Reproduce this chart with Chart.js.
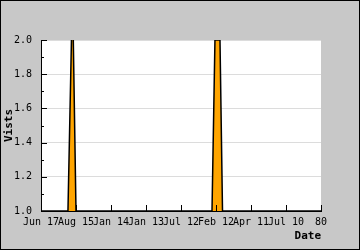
<!DOCTYPE html>
<html>
<head>
<meta charset="utf-8">
<script src="https://cdn.jsdelivr.net/npm/chart.js@4/dist/chart.umd.min.js"></script>
<style>
  html, body { margin: 0; padding: 0; background: #c8c8c8; }
  canvas { display: block; }
</style>
</head>
<body>
<canvas id="chart" width="360" height="250"></canvas>
<script>
// x tick labels, one per integer position on the date axis
const xLabels = ["Jun 17", "Aug 15", "Jan 14", "Jan 13", "Jul 12", "Feb 12", "Apr 11", "Jul 10", "80"];
// visits series (x in axis units, y = visits)
const visitX = [0, 0.77, 0.9, 1.0, 4.886, 4.97, 5.114, 5.186, 8];
const visitY = [1, 1, 2.3, 1, 1, 2, 2, 1, 1];
const minorY = [1.1, 1.3, 1.5, 1.7, 1.9];

const mono = "'DejaVu Sans Mono', monospace";

// gray page, white plot, border + inward ticks
const frame = {
  id: "frame",
  beforeDraw(chart) {
    const { ctx, chartArea: a } = chart;
    ctx.save();
    ctx.fillStyle = "#c8c8c8";
    ctx.fillRect(0, 0, chart.width, chart.height);
    ctx.fillStyle = "#ffffff";
    ctx.fillRect(a.left, a.top, a.right - a.left, a.bottom - a.top);
    ctx.restore();
  },
  afterDraw(chart) {
    const { ctx, chartArea: a, scales } = chart;
    ctx.save();
    ctx.strokeStyle = "#000";
    ctx.lineWidth = 1;
    ctx.beginPath();
    xLabels.forEach((_, i) => {
      const x = Math.round(scales.x.getPixelForValue(i)) + 0.5;
      ctx.moveTo(x, a.bottom);
      ctx.lineTo(x, a.bottom - 6);
    });
    scales.y.ticks.forEach(t => {
      const y = Math.round(scales.y.getPixelForValue(t.value)) + 0.5;
      ctx.moveTo(a.left, y);
      ctx.lineTo(a.left + 6, y);
    });
    minorY.forEach(v => {
      const y = Math.round(scales.y.getPixelForValue(v)) + 0.5;
      ctx.moveTo(a.left, y);
      ctx.lineTo(a.left + 3, y);
    });
    ctx.stroke();
    ctx.strokeRect(0.5, 0.5, chart.width - 1, chart.height - 1);
    ctx.restore();
  }
};

new Chart(document.getElementById("chart"), {
  type: "line",
  data: {
    datasets: [{
      data: visitX.map((x, i) => ({ x: x, y: visitY[i] })),
      borderColor: "#000",
      borderWidth: 1.5,
      backgroundColor: "#ffa500",
      fill: "origin",
      pointRadius: 0,
      tension: 0
    }]
  },
  options: {
    responsive: false,
    animation: false,
    layout: { padding: { top: 40, right: 39, left: 0, bottom: 0 } },
    plugins: { legend: { display: false }, tooltip: { enabled: false } },
    scales: {
      x: {
        type: "linear",
        min: 0,
        max: 8,
        afterFit(s) { s.height = 39; },
        grid: { display: false, drawTicks: false },
        border: { display: true, color: "#000", width: 1 },
        ticks: {
          stepSize: 1,
          autoSkip: false,
          maxRotation: 0,
          padding: 5,
          color: "#000",
          font: { family: mono, size: 10 },
          callback: v => xLabels[v]
        },
        title: {
          display: true,
          text: "Date",
          align: "end",
          color: "#000",
          font: { family: mono, size: 11, weight: "bold" },
          padding: { top: 0, bottom: 7 }
        }
      },
      y: {
        min: 1,
        max: 2,
        afterFit(s) { s.width = 41; },
        grid: { color: "#dcdcdc", drawTicks: false },
        border: { display: true, color: "#000", width: 1 },
        ticks: {
          stepSize: 0.2,
          padding: 9,
          color: "#000",
          font: { family: mono, size: 10 },
          callback: v => v.toFixed(1)
        },
        title: {
          display: true,
          text: "Vists",
          color: "#000",
          font: { family: mono, size: 11, weight: "bold" },
          padding: { top: 3, bottom: 0 }
        }
      }
    }
  },
  plugins: [frame]
});
</script>
</body>
</html>
